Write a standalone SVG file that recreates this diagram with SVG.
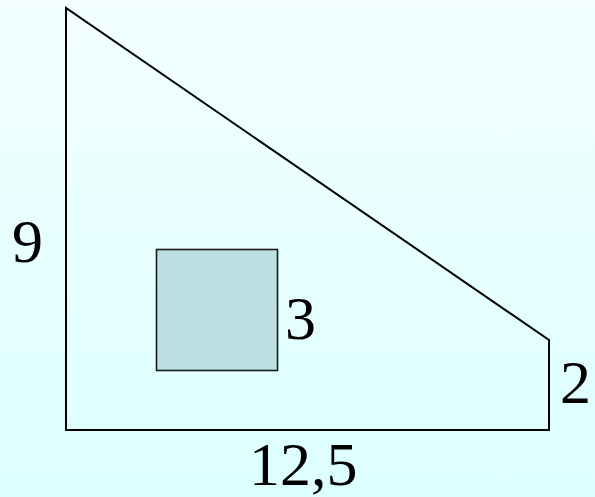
<svg xmlns="http://www.w3.org/2000/svg" width="595" height="497" viewBox="0 0 595 497">
<defs>
<linearGradient id="bg" x1="0" y1="0" x2="0" y2="1">
<stop offset="0" stop-color="#F3FFFF"/>
<stop offset="1" stop-color="#DCFFFF"/>
</linearGradient>
<style>
.lbl{font-family:"Liberation Serif","Times New Roman",serif;font-size:62px;fill:#000}
.edge{fill:none;stroke:#000;stroke-width:2;stroke-linecap:square}
</style>
</defs>
<rect x="0" y="0" width="595" height="497" fill="url(#bg)"/>
<g id="shape">
<polyline class="edge" points="549,340 66,8 66,430 549,430 549,340"/>
</g>
<g id="square">
<rect x="156.5" y="249.5" width="121" height="121" fill="#BCE0E3" stroke="#1a1a1a" stroke-width="1.6"/>
</g>
<g id="labels">
<text class="lbl" x="12" y="262">9</text>
<text class="lbl" x="285" y="339">3</text>
<text class="lbl" x="560" y="403">2</text>
<text class="lbl" x="249" y="485">12,5</text>
</g>
</svg>
